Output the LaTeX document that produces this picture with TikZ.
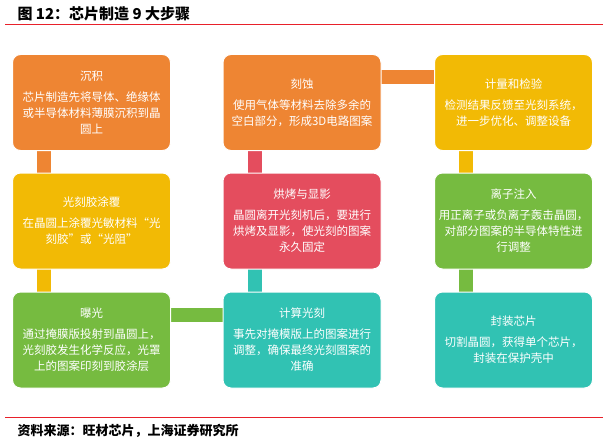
\documentclass[tikz,border=0pt]{standalone}
\usepackage{fontspec}
\setmainfont{Noto Sans CJK SC}[AutoFakeSlant=0.25]
\usetikzlibrary{positioning}
\definecolor{orangeS}{HTML}{EE8533}
\definecolor{yellowS}{HTML}{F2BA05}
\definecolor{redS}{HTML}{E44D5E}
\definecolor{greenS}{HTML}{76BB40}
\definecolor{tealS}{HTML}{31C2B3}
\definecolor{ruleS}{HTML}{E8202A}
\newcommand{\steptext}[2]{#1\\[5pt]#2}
\begin{document}
\begin{tikzpicture}[x=1pt,y=-1pt,
				stepbox/.style={rectangle,rounded corners=8pt,draw=white,line width=1pt,text=white,
					minimum width=158pt,minimum height=96pt,align=center,inner sep=2pt,
					font=\fontsize{11.5}{16}\selectfont},
				bar/.style={line width=14pt}]
				\useasboundingbox (0,0) rectangle (607,444);
				% title and rules
				\node (TITLE) [anchor=west,font=\bfseries\fontsize{15}{18}\selectfont] at (14,14) {图 12：芯片制造 9 大步骤};
				\draw[ruleS,line width=1pt] (5,25) -- (603,25);
				\draw[ruleS,line width=1pt] (5,417) -- (603,417);
				\node (SRC) [anchor=west,font=\itshape\bfseries\fontsize{13}{16}\selectfont] at (14,431) {资料来源：旺材芯片，上海证券研究所};
				% connectors
				\draw[bar,orangeS] (44,148) -- (44,176);
				\draw[bar,yellowS] (44,266) -- (44,295);
				\draw[bar,redS]    (255,148) -- (255,176);
				\draw[bar,tealS]   (255,266) -- (255,295);
				\draw[bar,yellowS] (466,148) -- (466,176);
				\draw[bar,greenS]  (466,266) -- (466,295);
				\draw[bar,orangeS] (378,77) -- (437,77);
				\draw[bar,greenS]  (168,315) -- (226,315);
				% steps
				\node (DEP)  [stepbox,fill=orangeS] at (91.5,102.5) {\steptext{沉积}{芯片制造先将导体、绝缘体\\或半导体材料薄膜沉积到晶\\圆上}};
				\node (ETCH) [stepbox,fill=orangeS] at (302,102.5) {\steptext{刻蚀}{使用气体等材料去除多余的\\空白部分，形成3D电路图案}};
				\node (MEAS) [stepbox,fill=yellowS] at (513.5,102.5) {\steptext{计量和检验}{检测结果反馈至光刻系统，\\进一步优化、调整设备}};
				\node (COAT) [stepbox,fill=yellowS] at (91.5,221) {\steptext{光刻胶涂覆}{在晶圆上涂覆光敏材料“光\\刻胶”或“光阻”}};
				\node (BAKE) [stepbox,fill=redS]    at (302,221) {\steptext{烘烤与显影}{晶圆离开光刻机后，要进行\\烘烤及显影，使光刻的图案\\永久固定}};
				\node (ION)  [stepbox,fill=greenS]  at (513.5,221) {\steptext{离子注入}{用正离子或负离子轰击晶圆，\\对部分图案的半导体特性进\\行调整}};
				\node (EXPO) [stepbox,fill=greenS]  at (91.5,340) {\steptext{曝光}{通过掩膜版投射到晶圆上，\\光刻胶发生化学反应，光罩\\上的图案印刻到胶涂层}};
				\node (COMP) [stepbox,fill=tealS]   at (302,340) {\steptext{计算光刻}{事先对掩模版上的图案进行\\调整，确保最终光刻图案的\\准确}};
				\node (PACK) [stepbox,fill=tealS]   at (513.5,340) {\steptext{封装芯片}{切割晶圆，获得单个芯片，\\封装在保护壳中}};
			\end{tikzpicture}
\end{document}
